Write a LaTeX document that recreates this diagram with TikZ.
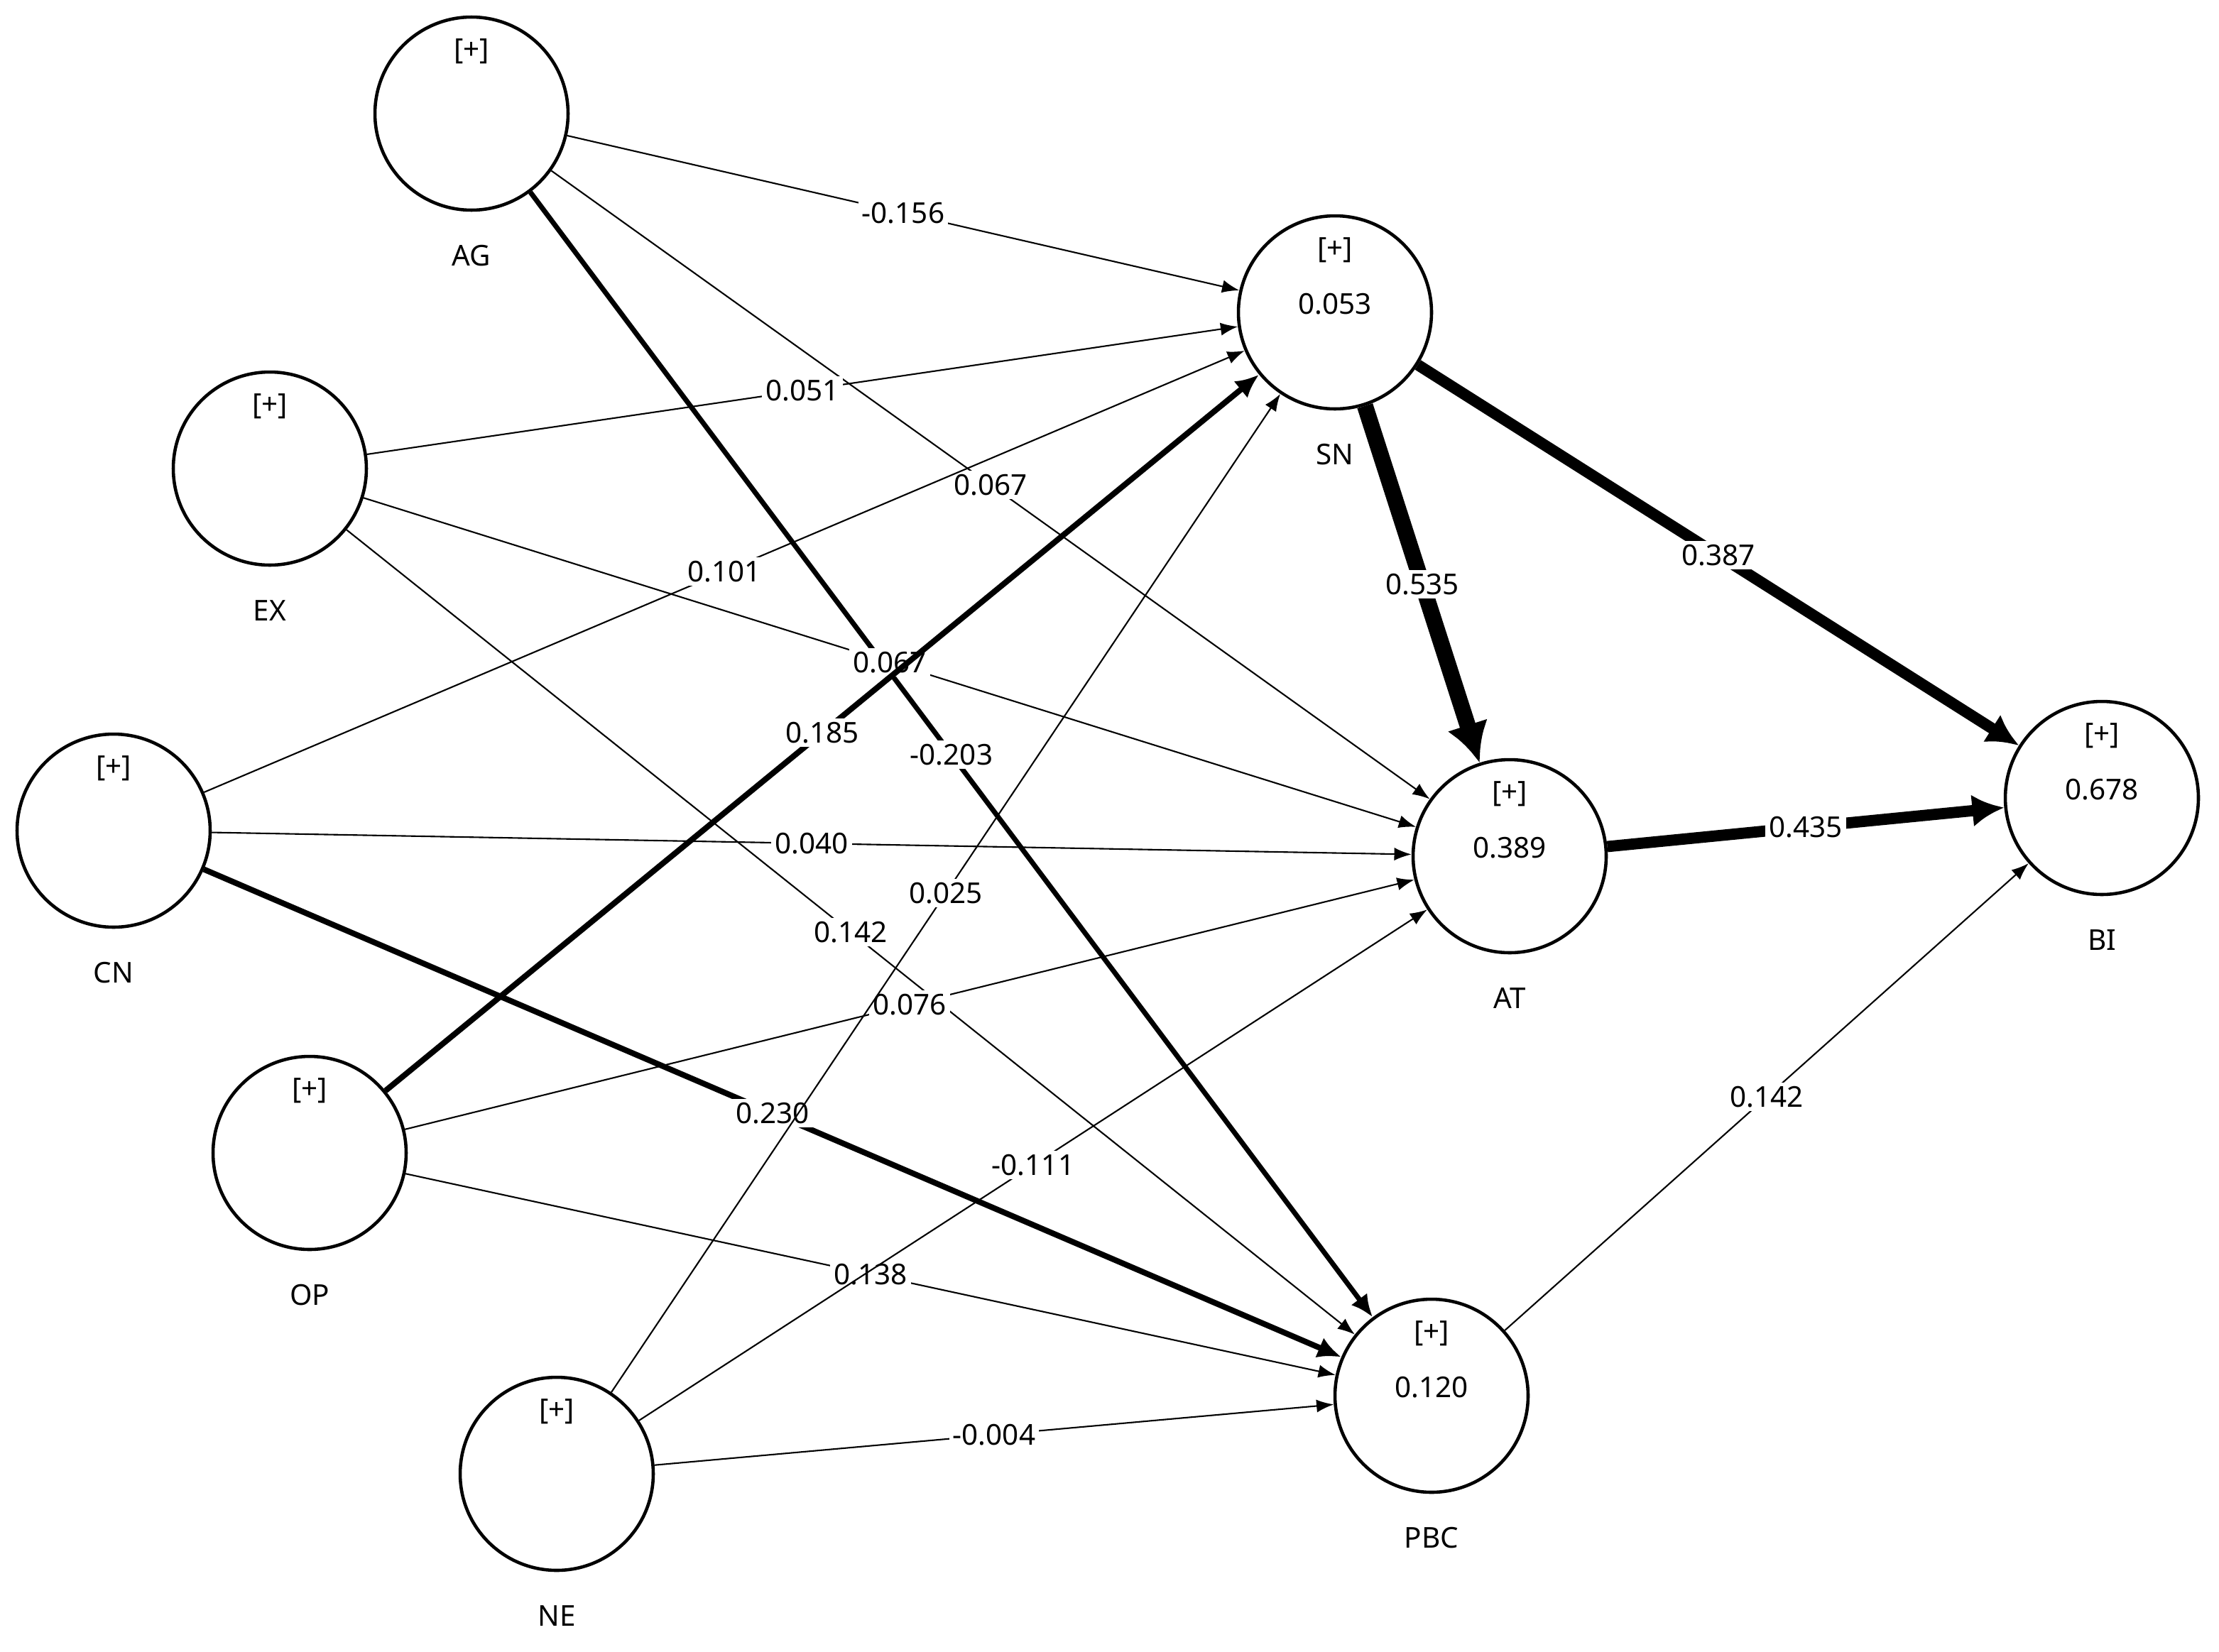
\documentclass[tikz,border=0pt]{standalone}
\usepackage{fontspec}
\setmainfont{Noto Sans}
\usetikzlibrary{arrows.meta}
\tikzset{
  lv/.style={circle, draw, line width=1.3pt, minimum size=2.72cm, inner sep=0pt},
  path/.style={-{Latex[length=6pt 1.5,width=4pt 2]}, line width=0.6pt},
  coef/.style={midway, fill=white, inner sep=1.5pt, font=\fontsize{11.5}{13}\selectfont},
  lab/.style={font=\fontsize{11.5}{13}\selectfont}
}
\newcommand{\latent}[4]{%
  \node[lv] (#1) at (#2) {};
  \node[lab] at ([yshift=-2.0cm]#1) {#1};
  \node[lab] at ([yshift=0.88cm]#1) {[+]};
  \node[lab] at ([yshift=0.12cm]#1) {#4};
}
\begin{document}
\begin{tikzpicture}[x=0.02cm, y=-0.02cm]
\useasboundingbox (0,0) rectangle (1562.5,1163);
\latent{AG}{332,80}{}{}
\latent{EX}{190,330}{}{}
\latent{CN}{80,585}{}{}
\latent{OP}{218,812}{}{}
\latent{NE}{392,1038}{}{}
\latent{SN}{940,220}{}{0.053}
\latent{AT}{1063,603}{}{0.389}
\latent{PBC}{1008,983}{}{0.120}
\latent{BI}{1480,562}{}{0.678}
% inner model
\draw[path] (AG) -- node[coef] {-0.156} (SN);
\draw[path] (AG) -- node[coef] {0.067} (AT);
\draw[path, line width=2pt] (AG) -- node[coef] {-0.203} (PBC);
\draw[path] (EX) -- node[coef] {0.051} (SN);
\draw[path] (EX) -- node[coef] {0.067} (AT);
\draw[path] (EX) -- node[coef] {0.142} (PBC);
\draw[path] (CN) -- node[coef] {0.101} (SN);
\draw[path] (CN) -- node[coef] {0.040} (AT);
\draw[path, line width=2.3pt] (CN) -- node[coef] {0.230} (PBC);
\draw[path, line width=2.3pt] (OP) -- node[coef] {0.185} (SN);
\draw[path] (OP) -- node[coef] {0.076} (AT);
\draw[path] (OP) -- node[coef] {0.138} (PBC);
\draw[path] (NE) -- node[coef] {0.025} (SN);
\draw[path] (NE) -- node[coef] {-0.111} (AT);
\draw[path] (NE) -- node[coef] {-0.004} (PBC);
\draw[path, line width=6.5pt] (SN) -- node[coef] {0.535} (AT);
\draw[path, line width=4.5pt] (SN) -- node[coef] {0.387} (BI);
\draw[path, line width=4.5pt] (AT) -- node[coef] {0.435} (BI);
\draw[path] (PBC) -- node[coef] {0.142} (BI);
\end{tikzpicture}
\end{document}
